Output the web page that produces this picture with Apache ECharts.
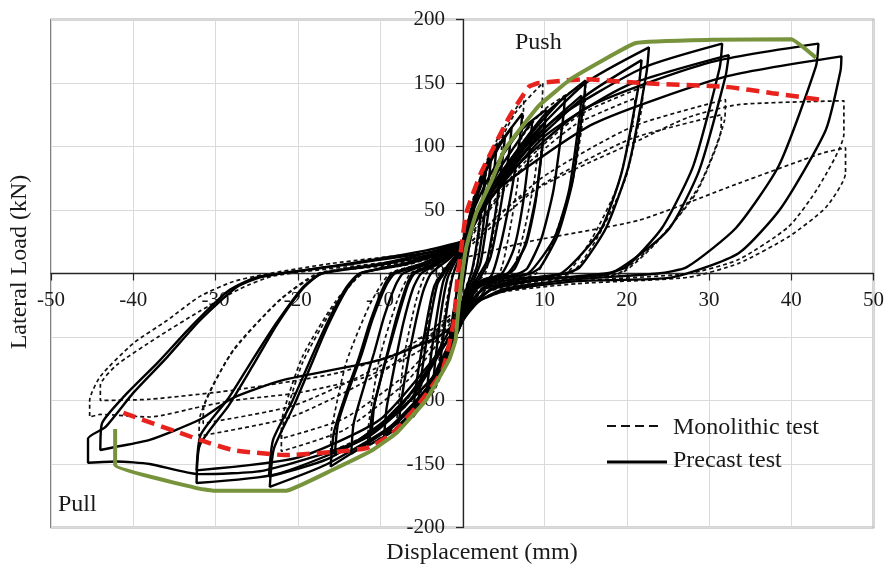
<!DOCTYPE html>
<html><head><meta charset="utf-8">
<script src="https://cdn.jsdelivr.net/npm/echarts@6/dist/echarts.min.js"></script>
<style>html,body{margin:0;padding:0;background:#fff}#c{width:887px;height:567px}</style>
</head><body><div id="c"></div>
<script>
// Precast test cycles (solid)
const pc1 = [[0,10],[0.7,28],[1.5,48],[1.2,35],[0.6,12],[0.2,-5],[-0.3,-20],[-0.9,-38],[-1.5,-50],[-1.2,-36],[-0.6,-12],[-0.2,4],[0,10]];
const pc2 = [[0,15],[1,42],[2,64],[2.8,78],[2.5,60],[1.8,25],[1.2,3],[0.5,-12],[0,-22],[-1,-45],[-2,-65],[-2.8,-78],[-2.5,-60],[-1.8,-25],[-1.2,-3],[-0.5,10],[0,15]];
const pc3 = [[0,18],[1,48],[2.5,80],[4.2,102],[3.9,82],[3,40],[2.2,8],[1.2,-8],[0,-25],[-1.2,-52],[-2.8,-80],[-4.4,-100],[-4.1,-80],[-3.2,-38],[-2.3,-6],[-1.2,8],[0,18]];
const pc4 = [[0,20],[1.2,52],[3,85],[6,115],[5.7,95],[4.6,50],[3.4,12],[2,-5],[0.8,-15],[0,-28],[-1.3,-55],[-3,-85],[-6,-113],[-5.7,-92],[-4.6,-48],[-3.4,-10],[-1.8,6],[0,20]];
const pc5 = [[0,22],[1.5,58],[3.5,92],[7.3,126],[7,106],[5.8,58],[4.5,18],[3.5,-2],[1.5,-12],[0,-30],[-1.5,-60],[-3.8,-92],[-7.8,-123],[-7.4,-100],[-6.2,-55],[-4.8,-15],[-3.8,0],[-1.5,12],[0,22]];
const pc6 = [[0,24],[1.5,52],[3.6,80],[7,112],[10.2,129],[10,114],[9,62],[7.8,26],[6.4,4],[5.6,0],[3,-5],[1.2,-12],[0,-30],[-1.5,-58],[-4,-90],[-8,-122],[-11.3,-135],[-11,-112],[-10,-85],[-9,-60],[-8,-35],[-6.8,-10],[-6,0],[-3.4,8],[-1.1,17],[0,24]];
const pc7 = [[0,20],[2,45],[5,80],[10,118],[9.8,104],[8.9,56],[7.7,22],[5.5,0],[3,-4],[1.2,-11],[0,-26],[-2,-50],[-5,-85],[-11,-126],[-10.7,-104],[-9.7,-78],[-8.7,-55],[-7.7,-32],[-6.6,-9],[-5.8,0],[-3.3,7],[-1.1,15],[0,20]];
const pc8 = [[0,25],[2,52],[5,82],[10,125],[15,152],[14.8,137],[13.4,72],[11.6,30],[9.5,5],[8.3,0],[4.5,-5],[1.8,-12],[0,-35],[-1.5,-58],[-4,-88],[-9,-122],[-16,-152],[-15.6,-125],[-14.2,-96],[-12.6,-67],[-11.2,-38],[-9.6,-11],[-8.5,0],[-4.8,8],[-1.6,18],[0,25]];
const pc9 = [[0,22],[3,58],[8,102],[14.5,140],[14.3,125],[13,66],[11.2,28],[8,0],[4.3,-4],[1.7,-11],[0,-32],[-2,-55],[-7,-105],[-15.5,-143],[-15.1,-118],[-13.7,-90],[-12.2,-63],[-10.9,-36],[-9.3,-10],[-8.2,0],[-4.6,7],[-1.5,16],[0,22]];
const pc10 = [[0,25],[2,50],[5,78],[8,105],[15,150],[22.7,178],[22.4,158],[20.2,84],[17.5,36],[14.3,5],[12.5,0],[6.8,-5],[2.7,-12],[1,-22],[0,-38],[-1.5,-60],[-4,-88],[-8.2,-118],[-16.4,-150],[-23.4,-168],[-22.9,-138],[-20.6,-106],[-18.5,-74],[-16.4,-42],[-14,-12],[-12.4,0],[-7,8],[-2.3,18],[0,25]];
const pc11 = [[0,22],[3,55],[8,98],[15,140],[21.8,168],[21.5,150],[19.4,80],[16.8,34],[12,0],[6.5,-4],[2.6,-11],[0,-34],[-2,-55],[-8,-108],[-16,-145],[-23.5,-160],[-23,-131],[-20.7,-101],[-18.6,-70],[-16.5,-40],[-14.1,-11],[-12.5,0],[-7,7],[-2.3,16],[0,22]];
const pc12 = [[0,25],[2,50],[5,76],[11,120],[22,162],[31.6,181],[31.3,162],[28.1,85],[24.3,36],[19.9,5],[17.4,0],[9.5,-5],[3.8,-12],[1.5,-22],[0,-38],[-1.5,-60],[-4,-85],[-11.3,-128],[-22.6,-158],[-32.3,-165],[-31.9,-135],[-28.4,-104],[-25.5,-73],[-22.6,-41],[-19.4,-12],[-17.1,0],[-9.7,8],[-3.2,18],[0,25]];
const pc13 = [[0,22],[3,55],[10,108],[20,148],[32.4,172],[32,155],[28.8,81],[25,34],[18,0],[9.7,-4],[3.9,-11],[0,-34],[-2,-55],[-10,-115],[-20,-145],[-32.3,-155],[-31.8,-127],[-28.4,-98],[-25.5,-68],[-22.6,-39],[-19.4,-11],[-17.1,0],[-9.7,7],[-3.2,16],[0,22]];
const pc14 = [[0,25],[2,50],[5,75],[15,130],[30,166],[43.3,181],[43,163],[38.5,85],[33.3,36],[27.3,5],[23.8,0],[13,-5],[5.2,-12],[2,-22],[0,-38],[-1.5,-60],[-4,-85],[-12,-130],[-24,-155],[-32,-158],[-38,-150],[-42,-148],[-45.5,-149],[-45.5,-130],[-43.4,-121],[-40,-94],[-35.9,-66],[-31.9,-37],[-27.4,-10.6],[-24.3,-2.6],[-13.6,8],[-4.5,18],[0,25]];
const pc15 = [[0,22],[2,48],[5,70],[16,118],[32,155],[46.1,171],[46,160],[44.2,113],[38.8,52],[33.6,16],[25.5,-3],[14,-6],[5.5,-13],[2,-22],[0,-35],[-3,-50],[-10,-68],[-21.8,-84],[-27.9,-98],[-31.9,-115],[-38,-131],[-42.5,-137],[-44,-139],[-43.8,-118],[-41,-96],[-37,-70],[-33,-42],[-28.5,-14],[-25,-3],[-14,7],[-4.6,16],[0,22]];
const pc16 = [[0,18],[1,45],[2.2,70],[3.5,90],[3.2,72],[2.5,35],[1.8,6],[0.8,-10],[0,-24],[-1,-48],[-2.3,-72],[-3.6,-90],[-3.3,-70],[-2.6,-32],[-1.8,-4],[-0.8,10],[0,18]];
const pc17 = [[0,20],[1.2,50],[2.8,80],[5.2,108],[4.9,90],[4,46],[3,10],[1.6,-6],[0,-27],[-1.3,-54],[-2.9,-82],[-5.4,-106],[-5.1,-86],[-4.1,-44],[-3,-8],[-1.5,7],[0,20]];
const pc18 = [[0,22],[2,50],[4.5,82],[8.5,120],[8.3,104],[7.4,56],[6.3,20],[4.8,0],[2.5,-5],[1,-12],[0,-30],[-1.8,-58],[-4.5,-92],[-9.5,-128],[-9.2,-106],[-8.3,-75],[-7.2,-40],[-6,-12],[-5,0],[-2.8,8],[-1,17],[0,22]];
const pc19 = [[0,24],[2,52],[5,82],[9,115],[12.5,140],[12.3,124],[11.1,66],[9.6,27],[7.9,4],[6.9,0],[3.8,-5],[1.5,-12],[0,-32],[-1.5,-58],[-4,-88],[-8,-118],[-13.5,-142],[-13.2,-118],[-12,-90],[-10.7,-62],[-9.5,-34],[-8.1,-9],[-7.2,0],[-4,8],[-1.3,17],[0,24]];

// Monolithic test cycles (dashed)
const mc1 = [[0,12],[0.7,32],[1.5,50],[1.2,36],[0.6,12],[0.2,-4],[-0.3,-18],[-0.9,-36],[-1.5,-48],[-1.2,-34],[-0.6,-10],[-0.2,5],[0,12]];
const mc2 = [[0,16],[1,45],[2,68],[3,85],[2.7,66],[2,28],[1.3,4],[0.5,-10],[0,-20],[-1,-46],[-2,-66],[-3,-80],[-2.7,-62],[-2,-26],[-1.3,-3],[-0.5,9],[0,16]];
const mc3 = [[0,20],[1.5,63],[3.2,92],[5,115],[4.8,100],[4.3,55],[3.5,20],[2.8,0],[1.5,-8],[0.5,-16],[0,-26],[-1.5,-62],[-3.4,-92],[-5.2,-105],[-5,-92],[-4.5,-52],[-3.6,-17],[-2.8,0],[-1.5,8],[-0.5,15],[0,20]];
const mc4 = [[0,22],[2.2,70],[4.9,112],[7.5,140],[7.4,123],[6.7,70],[5.6,28],[4.5,0],[2.2,-6],[0.7,-15],[0,-28],[-2.4,-72],[-5.2,-100],[-8,-122],[-7.9,-111],[-7,-63],[-5.6,-21],[-4.4,0],[-2.4,8],[-0.8,16],[0,22]];
const mc5 = [[0,24],[2.9,80],[6.4,126],[9.8,150],[9.7,132],[8.8,75],[7.4,30],[5.9,0],[2.9,-6],[1,-15],[0,-30],[-3.4,-82],[-7.5,-118],[-11.5,-136],[-11.4,-120],[-10.1,-68],[-8,-23],[-6.3,0],[-3.4,8],[-1.2,17],[0,24]];
const mc6 = [[0,22],[4.5,82],[9.8,128],[15,150],[14.9,132],[13.5,75],[11.3,30],[9,0],[4.5,-6],[1.5,-15],[0,-30],[-4.8,-84],[-10.4,-123],[-16,-140],[-15.9,-123],[-14.1,-70],[-11.2,-24],[-8.8,0],[-4.8,8],[-1.6,17],[0,22]];
const mc7 = [[0,20],[6.6,81],[14.3,125],[22,147],[21.8,129],[19.8,74],[16.5,29],[13.2,0],[6.6,-6],[2.2,-15],[0,-30],[-6.6,-84],[-14.3,-123],[-22,-140],[-21.9,-123],[-19.4,-70],[-15.4,-24],[-12.1,0],[-6.6,8],[-2.2,17],[0,20]];
const mc8 = [[0,18],[6.3,76],[13.7,117],[21,138],[20.8,121],[18.9,69],[15.8,28],[12.6,0],[6.3,-6],[2.1,-14],[0,-28],[-6.6,-78],[-14.3,-114],[-22,-130],[-21.9,-114],[-19.4,-65],[-15.4,-22],[-12.1,0],[-6.6,7],[-2.2,15],[0,18]];
const mc9 = [[0,18],[9.6,75],[20.8,116],[32,137],[31.9,121],[28.8,69],[24,27],[19.2,0],[9.6,-6],[3.2,-14],[0,-28],[-9.6,-77],[-20.8,-113],[-32,-128],[-31.9,-113],[-28.2,-64],[-22.4,-22],[-17.6,0],[-9.6,7],[-3.2,15],[0,18]];
const mc10 = [[0,16],[9.5,69],[20.5,106],[31.5,125],[31.4,110],[28.4,63],[23.6,25],[18.9,0],[9.5,-5],[3.2,-13],[0,-26],[-9.5,-71],[-20.5,-104],[-31.5,-118],[-31.4,-104],[-27.7,-59],[-22,-20],[-17.3,0],[-9.5,6],[-3.2,14],[0,16]];
const mc11 = [[0,18],[6,55],[13,80],[21.5,105],[27.5,123],[33.6,133],[46.4,136],[46.4,110],[43.3,68],[39.7,37],[33.6,11],[27.5,0],[14,-6],[4.6,-14],[0,-28],[-5,-60],[-12,-82],[-20,-94],[-27.9,-100],[-31.9,-105],[-38,-113],[-44,-111],[-45.3,-113],[-45.3,-100],[-44,-81],[-40,-55],[-35.9,-37],[-31.9,-18],[-27.9,-6.5],[-24.3,-1],[-15.8,8],[-5,16],[0,18]];
const mc12 = [[0,12],[8,25],[21.5,42],[33.6,71],[43.7,94.6],[46.6,99],[46.6,79],[44.2,52],[39.7,29],[33.6,8],[27.5,-3],[14,-8],[4.6,-15],[0,-28],[-5,-55],[-15,-78],[-28,-92],[-38,-99],[-44,-100],[-44,-88],[-42,-72],[-37,-50],[-32,-30],[-27,-12],[-23,-2],[-13,6],[-4.5,12],[0,15]];

// Envelopes
const monoEnvelope = [[-41.2,-109.8],[-31.9,-131],[-27.9,-139],[-21.4,-143],[-11.7,-137.6],[-8.5,-126],[-5.2,-102],[-2.4,-76],[-1,-37],[-0.6,-5],[-0.1,21],[0.5,47.6],[2.2,78],[5.7,123],[8.1,147],[9.3,150],[15,153],[21.5,150],[32,147],[37.7,142],[43.9,136.6]];
const precastEnvelope = [[-42.2,-122.5],[-42.2,-150.8],[-32.3,-169],[-30.3,-171],[-21.4,-171],[-15.8,-154.7],[-10.9,-139],[-8,-125.6],[-4.4,-99.6],[-1.6,-68],[-0.8,-52],[-0.6,-37],[-0.1,-5],[0.5,21],[1.7,47.6],[3.6,73.6],[5.1,97],[9.3,132],[13.4,154],[21.1,181.5],[30.3,184],[40,184.5],[43,170]];

const xTicks = {min:-50, max:50, step:10};
const yTicks = {min:-200, max:200, step:50};
const precastCycles = [pc1,pc2,pc16,pc3,pc17,pc4,pc5,pc18,pc6,pc7,pc19,pc8,pc9,pc10,pc11,pc12,pc13,pc14,pc15];
const monoCycles = [mc1,mc2,mc3,mc4,mc5,mc6,mc7,mc8,mc9,mc10,mc11,mc12];

const SERIF = "'Liberation Serif','DejaVu Serif',serif";
const W = 887, H = 567, GL = 51, GR = 12, GT = 19.5, GB = 39.5;
const plotW = W - GL - GR, plotH = H - GT - GB;
// shift axes so they cross at the origin
const xAxisOffset = -plotH * (0 - yTicks.min) / (yTicks.max - yTicks.min);
const yAxisOffset = -plotW * (0 - xTicks.min) / (xTicks.max - xTicks.min);

const series = [];
monoCycles.forEach(d=>series.push({type:'line', name:'Monolithic test', data:d, symbol:'none', smooth:0.2, silent:true,
  lineStyle:{color:'#111', width:1.7, type:[4,3]}, z:2}));
precastCycles.forEach(d=>series.push({type:'line', name:'Precast test', data:d, symbol:'none', smooth:0.2, silent:true,
  lineStyle:{color:'#000', width:2.4}, z:3}));
series.push({type:'line', data:monoEnvelope, symbol:'none', smooth:0.15, silent:true,
  lineStyle:{color:'#e8221d', width:4.5, type:[13,7]}, z:5});
series.push({type:'line', data:precastEnvelope, symbol:'none', smooth:0.1, silent:true,
  lineStyle:{color:'#77933c', width:4}, z:6});

const chart = echarts.init(document.getElementById('c'), null, {renderer:'canvas'});
chart.setOption({
  animation:false,
  backgroundColor:'#fff',
  grid:{left:GL, right:GR, top:GT, bottom:GB, show:true, borderColor:'#595959', borderWidth:1.5, backgroundColor:'transparent'},
  xAxis:{type:'value', min:xTicks.min, max:xTicks.max, interval:xTicks.step, position:'bottom', offset:xAxisOffset,
    axisLine:{onZero:false, lineStyle:{color:'#262626', width:1.3}},
    axisTick:{show:true, length:7, lineStyle:{color:'#262626', width:1.2}},
    axisLabel:{fontFamily:SERIF, fontSize:21, color:'#1a1a1a', margin:16, formatter:v=> v===0?'':String(v)},
    splitLine:{show:true, lineStyle:{color:'#dadada', width:1}}},
  yAxis:{type:'value', min:yTicks.min, max:yTicks.max, interval:yTicks.step, position:'left', offset:yAxisOffset,
    axisLine:{onZero:false, lineStyle:{color:'#262626', width:1.3}},
    axisTick:{show:true, length:7, lineStyle:{color:'#262626', width:1.2}},
    axisLabel:{fontFamily:SERIF, fontSize:21, color:'#1a1a1a', margin:18},
    splitLine:{show:true, lineStyle:{color:'#dadada', width:1}}},
  series: series,
  graphic:[
    {type:'text', x:20, y:262, rotation:Math.PI/2, style:{text:'Lateral Load (kN)', font:"24px "+SERIF, fill:'#1a1a1a', textAlign:'center', textVerticalAlign:'middle'}},
    {type:'text', x:482, y:553, style:{text:'Displacement (mm)', font:"24px "+SERIF, fill:'#1a1a1a', textAlign:'center', textVerticalAlign:'middle'}},
    {type:'text', x:515, y:43, z:10, style:{text:'Push', font:"24px "+SERIF, fill:'#1a1a1a', textAlign:'left', textVerticalAlign:'middle'}},
    {type:'text', x:58, y:505, z:10, style:{text:'Pull', font:"24px "+SERIF, fill:'#1a1a1a', textAlign:'left', textVerticalAlign:'middle'}},
    {type:'line', z:10, shape:{x1:607, y1:426, x2:662, y2:426}, style:{stroke:'#111', lineWidth:1.8, lineDash:[9,5]}},
    {type:'line', z:10, shape:{x1:607, y1:462, x2:667, y2:462}, style:{stroke:'#000', lineWidth:3}},
    {type:'text', x:673, y:428, z:10, style:{text:'Monolithic test', font:"24px "+SERIF, fill:'#1a1a1a', textAlign:'left', textVerticalAlign:'middle'}},
    {type:'text', x:673, y:461, z:10, style:{text:'Precast test', font:"24px "+SERIF, fill:'#1a1a1a', textAlign:'left', textVerticalAlign:'middle'}}
  ]
});
</script></body></html>
